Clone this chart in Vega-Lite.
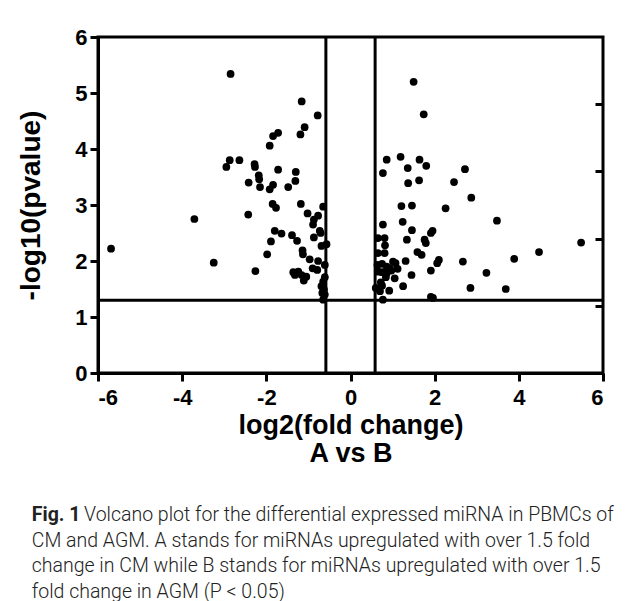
{
  "$schema": "https://vega.github.io/schema/vega-lite/v6.json",
  "autosize": {"type": "none"},
  "width": 505,
  "height": 336,
  "padding": {"left": 98, "top": 37, "right": 30, "bottom": 228},
  "background": "white",
  "config": {
    "view": {"stroke": "black", "strokeWidth": 3},
    "axis": {
      "domainColor": "black", "domainWidth": 3, "tickColor": "black", "tickWidth": 3, "tickSize": 8,
      "labelFont": "Liberation Sans", "labelFontWeight": "bold", "labelFontSize": 22, "labelColor": "black",
      "titleFont": "Liberation Sans", "titleFontWeight": "bold", "titleFontSize": 27, "titleColor": "black",
      "grid": false
    }
  },
  "title": {
    "text": "Fig. 1",
    "subtitle": [
      "\u200b\u00a0\u00a0\u00a0\u00a0\u00a0\u00a0\u00a0\u00a0\u00a0\u00a0\u00a0Volcano plot for the differential expressed miRNA in PBMCs of",
      "CM and AGM. A stands for miRNAs upregulated with over 1.5 fold",
      "change in CM while B stands for miRNAs upregulated with over 1.5",
      "fold change in AGM (P < 0.05)"
    ],
    "orient": "bottom", "anchor": "start", "frame": "bounds",
    "font": "Roboto", "fontSize": 19.5, "fontWeight": "bold", "color": "#222",
    "subtitleFont": "Roboto", "subtitleFontSize": 19.5, "subtitleFontWeight": 300, "subtitleColor": "#222",
    "subtitleLineHeight": 25.5, "subtitlePadding": -19.5, "offset": 40, "dx": 14
  },
  "layer": [
    {
      "data": {"values": [
        {"fc": -2.85, "p": 5.34}, {"fc": -2.87, "p": 3.80}, {"fc": -2.64, "p": 3.80}, {"fc": -2.95, "p": 3.68}, {"fc": -2.42, "p": 3.40},
        {"fc": -2.43, "p": 2.83}, {"fc": -3.71, "p": 2.75}, {"fc": -5.69, "p": 2.22}, {"fc": -3.25, "p": 1.97},
        {"fc": -1.16, "p": 4.85}, {"fc": -0.78, "p": 4.60}, {"fc": -1.09, "p": 4.39}, {"fc": -1.19, "p": 4.26}, {"fc": -1.72, "p": 4.29},
        {"fc": -1.84, "p": 4.23}, {"fc": -1.92, "p": 4.06},
        {"fc": -2.28, "p": 3.73}, {"fc": -2.27, "p": 3.68}, {"fc": -2.18, "p": 3.53}, {"fc": -2.17, "p": 3.46}, {"fc": -2.15, "p": 3.32},
        {"fc": -1.72, "p": 3.63}, {"fc": -1.92, "p": 3.28}, {"fc": -1.84, "p": 3.36}, {"fc": -1.30, "p": 3.59}, {"fc": -1.31, "p": 3.43},
        {"fc": -1.48, "p": 3.32},
        {"fc": -1.85, "p": 3.02}, {"fc": -1.77, "p": 2.95}, {"fc": -1.18, "p": 3.02}, {"fc": -0.65, "p": 2.97}, {"fc": -1.02, "p": 2.85},
        {"fc": -0.77, "p": 2.81}, {"fc": -0.87, "p": 2.74}, {"fc": -0.89, "p": 2.65}, {"fc": -0.73, "p": 2.54}, {"fc": -0.71, "p": 2.50},
        {"fc": -1.80, "p": 2.54}, {"fc": -1.64, "p": 2.49}, {"fc": -1.89, "p": 2.35}, {"fc": -1.39, "p": 2.46}, {"fc": -1.27, "p": 2.36},
        {"fc": -0.87, "p": 2.42}, {"fc": -0.69, "p": 2.27}, {"fc": -0.57, "p": 2.30},
        {"fc": -1.98, "p": 2.12}, {"fc": -1.14, "p": 2.19}, {"fc": -1.13, "p": 2.12}, {"fc": -0.97, "p": 2.03}, {"fc": -0.77, "p": 2.00},
        {"fc": -0.90, "p": 1.87}, {"fc": -0.79, "p": 1.84}, {"fc": -0.61, "p": 1.93},
        {"fc": -2.26, "p": 1.82}, {"fc": -1.36, "p": 1.80}, {"fc": -1.32, "p": 1.75}, {"fc": -1.24, "p": 1.81}, {"fc": -1.16, "p": 1.75},
        {"fc": -1.05, "p": 1.72}, {"fc": -1.11, "p": 1.65}, {"fc": -0.61, "p": 1.71}, {"fc": -0.65, "p": 1.63}, {"fc": -0.69, "p": 1.55},
        {"fc": -0.63, "p": 1.49}, {"fc": -0.67, "p": 1.43}, {"fc": -0.61, "p": 1.40}, {"fc": -0.65, "p": 1.31},
        {"fc": 1.50, "p": 5.20}, {"fc": 1.74, "p": 4.62}, {"fc": 0.86, "p": 3.81}, {"fc": 1.19, "p": 3.86}, {"fc": 1.64, "p": 3.81},
        {"fc": 0.77, "p": 3.57}, {"fc": 1.36, "p": 3.66}, {"fc": 1.80, "p": 3.70}, {"fc": 1.37, "p": 3.39}, {"fc": 1.63, "p": 3.44},
        {"fc": 2.46, "p": 3.41},
        {"fc": 1.21, "p": 2.98}, {"fc": 1.46, "p": 2.99}, {"fc": 2.26, "p": 2.94}, {"fc": 0.77, "p": 2.65}, {"fc": 1.24, "p": 2.70},
        {"fc": 1.46, "p": 2.55}, {"fc": 1.95, "p": 2.54}, {"fc": 1.91, "p": 2.50},
        {"fc": 0.65, "p": 2.41}, {"fc": 0.81, "p": 2.41}, {"fc": 1.34, "p": 2.38}, {"fc": 1.76, "p": 2.38}, {"fc": 1.79, "p": 2.32},
        {"fc": 0.82, "p": 2.28}, {"fc": 0.65, "p": 2.14}, {"fc": 0.81, "p": 2.14}, {"fc": 1.59, "p": 2.16}, {"fc": 1.69, "p": 2.11},
        {"fc": 1.01, "p": 1.99}, {"fc": 1.07, "p": 1.96}, {"fc": 1.31, "p": 2.00}, {"fc": 2.10, "p": 2.02}, {"fc": 2.06, "p": 1.96},
        {"fc": 0.64, "p": 1.93}, {"fc": 0.75, "p": 1.95}, {"fc": 0.86, "p": 1.90}, {"fc": 0.93, "p": 1.87}, {"fc": 1.12, "p": 1.86},
        {"fc": 0.66, "p": 1.81}, {"fc": 0.75, "p": 1.80}, {"fc": 0.86, "p": 1.78}, {"fc": 0.97, "p": 1.83}, {"fc": 1.05, "p": 1.69},
        {"fc": 0.84, "p": 1.71}, {"fc": 1.45, "p": 1.75}, {"fc": 1.91, "p": 1.83}, {"fc": 0.72, "p": 1.62}, {"fc": 1.25, "p": 1.55},
        {"fc": 0.60, "p": 1.52}, {"fc": 0.75, "p": 1.56}, {"fc": 0.70, "p": 1.46}, {"fc": 0.92, "p": 1.47}, {"fc": 0.77, "p": 1.31},
        {"fc": 1.91, "p": 1.36}, {"fc": 1.96, "p": 1.34},
        {"fc": 2.72, "p": 3.64}, {"fc": 2.87, "p": 3.13}, {"fc": 3.48, "p": 2.72}, {"fc": 5.48, "p": 2.33}, {"fc": 4.48, "p": 2.16},
        {"fc": 2.67, "p": 1.99}, {"fc": 3.89, "p": 2.04}, {"fc": 3.23, "p": 1.79}, {"fc": 2.85, "p": 1.52}, {"fc": 3.69, "p": 1.50}
      ]},
      "mark": {"type": "point", "filled": true, "color": "black", "opacity": 1, "size": 60},
      "encoding": {
        "x": {"field": "fc", "type": "quantitative",
          "scale": {"domain": [-6, 6], "nice": false, "zero": false},
          "axis": {"values": [-6, -4, -2, 0, 2, 4, 6], "labelExpr": "'' + datum.value", "title": ["log2(fold change)", "A vs B"], "titleLineHeight": 28, "titlePadding": 4, "labelPadding": 6}},
        "y": {"field": "p", "type": "quantitative",
          "scale": {"domain": [0, 6], "nice": false},
          "axis": {"values": [0, 1, 2, 3, 4, 5, 6], "labelExpr": "'' + datum.value", "title": "-log10(pvalue)", "titleFontSize": 28, "titlePadding": 29, "labelPadding": 3}}
      }
    },
    {
      "data": {"values": [{"v": -0.585}, {"v": 0.585}]},
      "mark": {"type": "rule", "color": "black", "strokeWidth": 3},
      "encoding": {"x": {"field": "v", "type": "quantitative"}}
    },
    {
      "data": {"values": [{"h": 1.301}]},
      "mark": {"type": "rule", "color": "black", "strokeWidth": 3},
      "encoding": {"y": {"field": "h", "type": "quantitative",
        "axis": {"orient": "right", "values": [1.2, 2.4, 3.6, 4.8], "labels": false, "domain": false, "tickSize": -8, "title": null}}}
    }
  ],
  "resolve": {"axis": {"y": "independent"}}
}
